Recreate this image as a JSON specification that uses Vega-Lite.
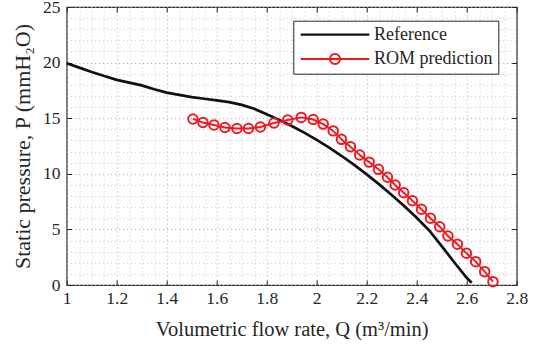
{
  "$schema": "https://vega.github.io/schema/vega-lite/v6.json",
  "width": 450,
  "height": 278,
  "autosize": "none",
  "padding": {"left": 66.7, "top": 7, "right": 25.3, "bottom": 59},
  "background": "white",
  "config": {
    "view": {"stroke": "#262626", "strokeWidth": 1.2},
    "font": "Liberation Serif",
    "style": {
      "guide-label": {"font": "Liberation Serif"},
      "guide-title": {"font": "Liberation Serif"}
    },
    "axis": {
      "labelFont": "Liberation Serif",
      "titleFont": "Liberation Serif",
      "labelColor": "#262626",
      "titleColor": "#262626",
      "tickColor": "#262626",
      "titleFontWeight": "normal"
    }
  },
  "data": {
    "values": [
      {"series": "Reference", "q": 1.00, "p": 19.95},
      {"series": "Reference", "q": 1.05, "p": 19.55},
      {"series": "Reference", "q": 1.10, "p": 19.15},
      {"series": "Reference", "q": 1.15, "p": 18.8},
      {"series": "Reference", "q": 1.20, "p": 18.45},
      {"series": "Reference", "q": 1.25, "p": 18.2},
      {"series": "Reference", "q": 1.30, "p": 17.95},
      {"series": "Reference", "q": 1.35, "p": 17.6},
      {"series": "Reference", "q": 1.40, "p": 17.3},
      {"series": "Reference", "q": 1.45, "p": 17.1},
      {"series": "Reference", "q": 1.50, "p": 16.9},
      {"series": "Reference", "q": 1.55, "p": 16.75},
      {"series": "Reference", "q": 1.60, "p": 16.6},
      {"series": "Reference", "q": 1.65, "p": 16.45},
      {"series": "Reference", "q": 1.70, "p": 16.2},
      {"series": "Reference", "q": 1.75, "p": 15.85},
      {"series": "Reference", "q": 1.80, "p": 15.35},
      {"series": "Reference", "q": 1.85, "p": 14.85},
      {"series": "Reference", "q": 1.90, "p": 14.3},
      {"series": "Reference", "q": 1.95, "p": 13.7},
      {"series": "Reference", "q": 2.00, "p": 13.05},
      {"series": "Reference", "q": 2.05, "p": 12.35},
      {"series": "Reference", "q": 2.10, "p": 11.6},
      {"series": "Reference", "q": 2.15, "p": 10.8},
      {"series": "Reference", "q": 2.20, "p": 9.95},
      {"series": "Reference", "q": 2.25, "p": 9.05},
      {"series": "Reference", "q": 2.30, "p": 8.1},
      {"series": "Reference", "q": 2.35, "p": 7.1},
      {"series": "Reference", "q": 2.40, "p": 6.05},
      {"series": "Reference", "q": 2.45, "p": 4.9},
      {"series": "Reference", "q": 2.50, "p": 3.5},
      {"series": "Reference", "q": 2.55, "p": 2.05},
      {"series": "Reference", "q": 2.60, "p": 0.65},
      {"series": "Reference", "q": 2.62, "p": 0.2},
      {"series": "ROM prediction", "q": 1.505, "p": 14.93},
      {"series": "ROM prediction", "q": 1.545, "p": 14.61},
      {"series": "ROM prediction", "q": 1.589, "p": 14.39},
      {"series": "ROM prediction", "q": 1.633, "p": 14.16},
      {"series": "ROM prediction", "q": 1.681, "p": 14.07},
      {"series": "ROM prediction", "q": 1.727, "p": 14.07},
      {"series": "ROM prediction", "q": 1.775, "p": 14.21},
      {"series": "ROM prediction", "q": 1.829, "p": 14.57},
      {"series": "ROM prediction", "q": 1.884, "p": 14.84},
      {"series": "ROM prediction", "q": 1.938, "p": 15.07},
      {"series": "ROM prediction", "q": 1.986, "p": 14.88},
      {"series": "ROM prediction", "q": 2.026, "p": 14.47},
      {"series": "ROM prediction", "q": 2.066, "p": 13.86},
      {"series": "ROM prediction", "q": 2.099, "p": 13.10},
      {"series": "ROM prediction", "q": 2.135, "p": 12.44},
      {"series": "ROM prediction", "q": 2.172, "p": 11.69},
      {"series": "ROM prediction", "q": 2.210, "p": 11.05},
      {"series": "ROM prediction", "q": 2.247, "p": 10.40},
      {"series": "ROM prediction", "q": 2.283, "p": 9.69},
      {"series": "ROM prediction", "q": 2.314, "p": 8.99},
      {"series": "ROM prediction", "q": 2.348, "p": 8.30},
      {"series": "ROM prediction", "q": 2.383, "p": 7.58},
      {"series": "ROM prediction", "q": 2.419, "p": 6.81},
      {"series": "ROM prediction", "q": 2.455, "p": 6.00},
      {"series": "ROM prediction", "q": 2.492, "p": 5.24},
      {"series": "ROM prediction", "q": 2.525, "p": 4.41},
      {"series": "ROM prediction", "q": 2.563, "p": 3.66},
      {"series": "ROM prediction", "q": 2.599, "p": 2.85},
      {"series": "ROM prediction", "q": 2.636, "p": 2.10},
      {"series": "ROM prediction", "q": 2.672, "p": 1.20},
      {"series": "ROM prediction", "q": 2.705, "p": 0.30}
    ]
  },
  "resolve": {"axis": {"x": "independent", "y": "independent"}},
  "layer": [
    {
      "mark": {"type": "line"},
      "encoding": {
        "x": {
          "field": "q", "type": "quantitative",
          "scale": {"domain": [1, 2.8], "nice": false, "zero": false},
          "axis": {
            "orient": "bottom",
            "title": "Volumetric flow rate, Q (m³/min)",
            "titleFont": "Liberation Serif",
            "titleFontSize": 20.5,
            "titleBaseline": "alphabetic",
            "titleY": 50,
            "values": [1, 1.05, 1.1, 1.15, 1.2, 1.25, 1.3, 1.35, 1.4, 1.45, 1.5, 1.55, 1.6, 1.65, 1.7, 1.75, 1.8, 1.85, 1.9, 1.95, 2, 2.05, 2.1, 2.15, 2.2, 2.25, 2.3, 2.35, 2.4, 2.45, 2.5, 2.55, 2.6, 2.65, 2.7, 2.75, 2.8],
            "labelExpr": "abs(datum.value*5 - round(datum.value*5)) < 0.000001 ? format(datum.value, '~g') : ''",
            "labelOverlap": false,
            "labelFlush": false,
            "labelFont": "Liberation Serif",
            "labelFontSize": 17.5,
            "labelPadding": 9,
            "domain": false,
            "tickSize": -5,
            "tickWidth": 1,
            "tickOpacity": {"condition": {"test": "abs(datum.value*5 - round(datum.value*5)) < 0.000001", "value": 1}, "value": 0},
            "grid": true,
            "gridDash": [1, 3],
            "gridWidth": 1,
            "gridColor": {"condition": {"test": "abs(datum.value*5 - round(datum.value*5)) < 0.000001", "value": "#a8a8a8"}, "value": "#c4c4c4"},
            "encode": {"labels": {"update": {"font": {"value": "Liberation Serif"}}}}
          }
        },
        "y": {
          "field": "p", "type": "quantitative",
          "scale": {"domain": [0, 25], "nice": false},
          "axis": {
            "orient": "left",
            "title": "Static pressure, P (mmH₂O)",
            "titleFont": "Liberation Serif",
            "titleFontSize": 22,
            "titleBaseline": "alphabetic",
            "titleX": -37.2,
            "values": [0, 1, 2, 3, 4, 5, 6, 7, 8, 9, 10, 11, 12, 13, 14, 15, 16, 17, 18, 19, 20, 21, 22, 23, 24, 25],
            "labelExpr": "datum.value % 5 === 0 ? datum.label : ''",
            "labelOverlap": false,
            "labelFlush": false,
            "labelFont": "Liberation Serif",
            "labelFontSize": 17.5,
            "labelPadding": 11.7,
            "domain": false,
            "tickSize": -5,
            "tickWidth": 1,
            "tickOpacity": {"condition": {"test": "datum.value % 5 === 0", "value": 1}, "value": 0},
            "grid": true,
            "gridDash": [1, 3],
            "gridWidth": 1,
            "gridColor": {"condition": {"test": "datum.value % 5 === 0", "value": "#a8a8a8"}, "value": "#c4c4c4"},
            "encode": {"labels": {"update": {"font": {"value": "Liberation Serif"}}}}
          }
        },
        "color": {
          "field": "series", "type": "nominal",
          "scale": {"domain": ["Reference", "ROM prediction"], "range": ["#111111", "#ee1a22"]},
          "legend": {
            "title": null,
            "orient": "none",
            "legendX": 226.6,
            "legendY": 13.7,
            "strokeColor": "#262626",
            "fillColor": "white",
            "padding": 5,
            "labelFont": "Liberation Serif",
            "labelFontSize": 18,
            "labelColor": "#262626",
            "labelOffset": 57.7,
            "rowPadding": 5.3,
            "symbolSize": 100,
            "symbolStrokeWidth": 2.2,
            "encode": {
              "symbols": {
                "update": {
                  "shape": {"signal": "datum.value === 'ROM prediction' ? 'M-1.32,0H12.4M6.54,0A1,1,0,1,1,4.54,0A1,1,0,1,1,6.54,0' : 'M-1.32,0H12.4'"},
                  "strokeWidth": {"value": 2.2}
                }
              }
            }
          }
        },
        "strokeWidth": {"condition": {"test": "datum.series === 'Reference'", "value": 2.7}, "value": 1.9}
      }
    },
    {
      "transform": [{"filter": "datum.series === 'ROM prediction'"}],
      "mark": {"type": "point", "shape": "circle", "filled": false, "size": 90, "strokeWidth": 2, "opacity": 1, "color": "#ee1a22"},
      "encoding": {
        "x": {
          "field": "q", "type": "quantitative",
          "axis": {
            "orient": "top",
            "title": null,
            "values": [1, 1.2, 1.4, 1.6, 1.8, 2, 2.2, 2.4, 2.6, 2.8],
            "labels": false,
            "grid": false,
            "domain": false,
            "tickSize": -5,
            "tickWidth": 1
          }
        },
        "y": {
          "field": "p", "type": "quantitative",
          "axis": {
            "orient": "right",
            "title": null,
            "values": [0, 5, 10, 15, 20, 25],
            "labels": false,
            "grid": false,
            "domain": false,
            "tickSize": -5,
            "tickWidth": 1
          }
        }
      }
    }
  ]
}
